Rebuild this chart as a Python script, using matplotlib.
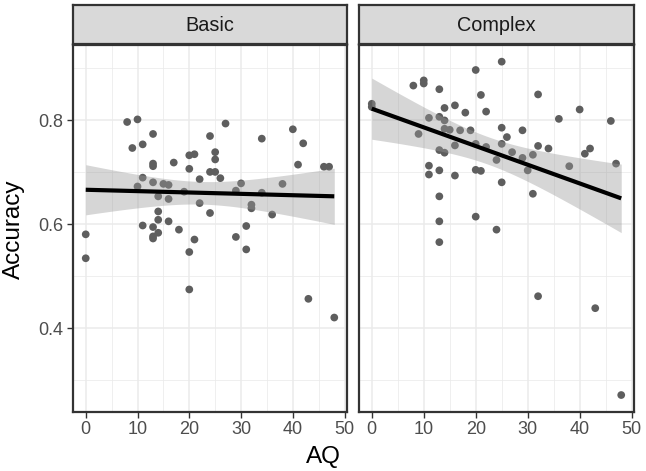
import numpy as np
import matplotlib
matplotlib.use("Agg")
import matplotlib.pyplot as plt

plt.rcParams['font.family'] = ['Liberation Sans', 'DejaVu Sans']

panels = ["Basic", "Complex"]

basic_aq = [8, 10, 13, 9, 11, 24, 27, 34, 40, 42, 20, 21, 25, 25, 17, 13, 13, 20, 41, 46,
            47, 24, 25, 26, 22, 11, 13, 15, 16, 10, 30, 38, 19, 29, 34, 14, 16, 22, 32, 32,
            36, 24, 14, 14, 16, 11, 13, 18, 31, 0, 13, 13, 14, 21, 29, 20, 31, 0, 20, 43, 48]
basic_acc = [0.797, 0.802, 0.774, 0.747, 0.754, 0.770, 0.794, 0.765, 0.783, 0.756,
             0.733, 0.735, 0.739, 0.725, 0.719, 0.717, 0.712, 0.707, 0.715, 0.711,
             0.711, 0.701, 0.701, 0.689, 0.687, 0.690, 0.681, 0.678, 0.676, 0.673,
             0.679, 0.678, 0.663, 0.665, 0.661, 0.654, 0.649, 0.641, 0.638, 0.631,
             0.619, 0.622, 0.625, 0.609, 0.606, 0.598, 0.595, 0.590, 0.597, 0.581,
             0.577, 0.573, 0.584, 0.571, 0.576, 0.547, 0.552, 0.535, 0.475, 0.457, 0.421]

complex_aq = [25, 20, 8, 10, 10, 13, 21, 32, 0, 0, 14, 16, 18, 22, 40, 11, 13, 14, 36, 46,
              14, 15, 17, 19, 25, 29, 9, 26, 16, 20, 22, 25, 32, 34, 42, 41, 13, 14, 27, 29,
              31, 24, 47, 38, 11, 11, 13, 20, 21, 30, 16, 25, 31, 13, 13, 20, 24, 13, 32, 43, 48]
complex_acc = [0.913, 0.897, 0.867, 0.877, 0.871, 0.860, 0.849, 0.850, 0.832, 0.826,
               0.824, 0.829, 0.815, 0.817, 0.821, 0.805, 0.807, 0.800, 0.803, 0.799,
               0.784, 0.782, 0.781, 0.781, 0.786, 0.781, 0.774, 0.768, 0.752, 0.755,
               0.749, 0.755, 0.751, 0.746, 0.746, 0.736, 0.743, 0.738, 0.739, 0.728,
               0.734, 0.724, 0.717, 0.712, 0.713, 0.696, 0.704, 0.705, 0.703, 0.704,
               0.694, 0.681, 0.659, 0.654, 0.606, 0.615, 0.590, 0.566, 0.462, 0.439, 0.272]

x_ticks = [0, 10, 20, 30, 40, 50]
y_ticks = [0.4, 0.6, 0.8]
x_label = "AQ"
y_label = "Accuracy"

data = [(basic_aq, basic_acc), (complex_aq, complex_acc)]

T975 = 2.000995  # t quantile, df = 59


def lm_band(x, y):
    x = np.asarray(x, float)
    y = np.asarray(y, float)
    n = len(x)
    b1, b0 = np.polyfit(x, y, 1)
    resid = y - (b0 + b1 * x)
    s = np.sqrt(np.sum(resid ** 2) / (n - 2))
    xs = np.linspace(x.min(), x.max(), 80)
    xbar = x.mean()
    sxx = np.sum((x - xbar) ** 2)
    se = s * np.sqrt(1.0 / n + (xs - xbar) ** 2 / sxx)
    fit = b0 + b1 * xs
    return xs, fit, fit - T975 * se, fit + T975 * se


fig = plt.figure(figsize=(6.46, 4.71), dpi=100)
W, H = 646.0, 471.0
lefts = [73.3, 359.3]
widths = [273.4, 274.4]
top_px, bot_px = 45.0, 411.7
strip_top = 5.0

all_y = np.array(basic_acc + complex_acc)
ymin, ymax = all_y.min(), all_y.max()
yr = ymax - ymin
ylim = (ymin - 0.05 * yr, ymax + 0.05 * yr)
all_x = np.array(basic_aq + complex_aq)
xr = all_x.max() - all_x.min()
xlim = (all_x.min() - 0.05 * xr, all_x.max() + 0.05 * xr)

border = '#333333'
for i, (name, (xa, ya)) in enumerate(zip(panels, data)):
    ax = fig.add_axes([lefts[i] / W, 1 - bot_px / H, widths[i] / W, (bot_px - top_px) / H])
    ax.set_xlim(xlim)
    ax.set_ylim(ylim)
    ax.set_facecolor('white')
    ax.set_xticks(x_ticks)
    ax.set_xticks([5, 15, 25, 35, 45], minor=True)
    ax.set_yticks(y_ticks)
    ax.set_yticks([0.3, 0.5, 0.7, 0.9], minor=True)
    ax.grid(which='major', color='#EBEBEB', linewidth=1.1, zorder=0)
    ax.grid(which='minor', color='#EBEBEB', linewidth=0.55, zorder=0)
    ax.set_axisbelow(True)
    ax.tick_params(which='minor', length=0)
    ax.tick_params(which='major', length=4, width=1.0, color='#333333',
                   labelsize=13, labelcolor='#4D4D4D', pad=3)
    if i == 1:
        ax.tick_params(axis='y', which='major', length=0, labelleft=False)
    for sp in ax.spines.values():
        sp.set_color(border)
        sp.set_linewidth(1.6)

    ax.scatter(xa, ya, s=31, color='#5E5E5E', edgecolors='none', zorder=3)
    xs, fit, lo, hi = lm_band(xa, ya)
    ax.fill_between(xs, lo, hi, color='#999999', alpha=0.4, linewidth=0, zorder=4)
    ax.plot(xs, fit, color='black', linewidth=3.0, zorder=5, solid_capstyle='butt')

    sax = fig.add_axes([lefts[i] / W, 1 - (top_px - 1) / H, widths[i] / W, (top_px - 1 - strip_top) / H])
    sax.set_facecolor('#D9D9D9')
    sax.set_xticks([])
    sax.set_yticks([])
    for sp in sax.spines.values():
        sp.set_color(border)
        sp.set_linewidth(1.6)
    sax.text(0.5, 0.47, name, ha='center', va='center', fontsize=14.3, color='#1A1A1A',
             transform=sax.transAxes)

fig.text(0.5, 1 - 457 / H, x_label, ha='center', va='center', fontsize=17.5, color='black')
fig.text(14 / W, 1 - 229 / H, y_label, ha='center', va='center', rotation=90, fontsize=17.5,
         color='black')

fig.savefig("out.png", dpi=100, facecolor='white')
